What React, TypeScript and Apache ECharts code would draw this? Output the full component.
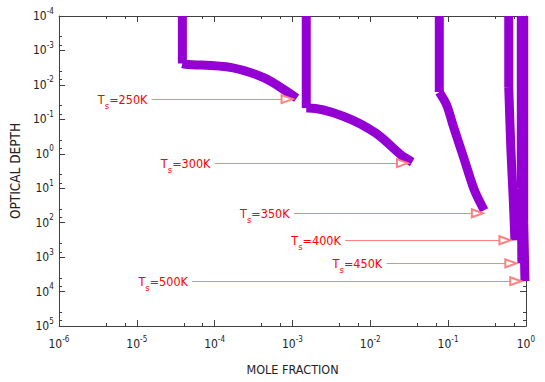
import { useEffect, useRef } from 'react';
import * as echarts from 'echarts';

// Surface temperatures (labels)
const temps = ['250K', '300K', '350K', '400K', '450K', '500K'];

// Curves: [mole fraction, optical depth]; first point = top of vertical part, second = corner
const curve250 = [[3.84e-5, 1e-4], [3.84e-5, 2.4e-3], [4.2e-5, 2.5e-3], [1.65e-4, 3.14e-3], [4.33e-4, 6.3e-3], [9.5e-4, 0.0185], [1.13e-3, 0.0242]];
const curve300 = [[1.5e-3, 1e-4], [1.5e-3, 0.047], [1.61e-3, 0.047], [4.47e-3, 0.081], [0.0117, 0.25], [0.0258, 1.17], [0.0345, 1.75]];
const curve350 = [[0.0769, 1e-4], [0.0769, 0.0162], [0.0957, 0.0386], [0.1175, 0.169], [0.162, 1.53], [0.217, 11.4], [0.29, 43.6]];
const curve400 = [[0.6, 1e-4], [0.6, 0.0115], [0.64, 0.785], [0.687, 22.4], [0.72, 326]];
const curve450 = [[0.87, 1e-4], [0.87, 10], [0.885, 1500]];
const curve500 = [[0.935, 1e-4], [0.935, 100], [0.97, 5000]];
const curves = [curve250, curve300, curve350, curve400, curve450, curve500];

// Arrow annotations: start (text side) and tip
const arrowStart = [[1.55e-5, 0.0259], [1.0e-4, 1.87], [1.04e-3, 53.3], [4.74e-3, 325], [0.0161, 1514], [5.14e-5, 5000]];
const arrowTip = [[8.5e-4, 0.0259], [0.0258, 1.87], [0.237, 53.3], [0.536, 325], [0.638, 1514], [0.738, 5000]];

const xMin = 1e-6, xMax = 1;
const yMin = 1e-4, yMax = 1e5;

const FONT = '"DejaVu Sans Condensed", "DejaVu Sans", sans-serif';
const AXIS_COLOR = '#404040';
const TEXT_COLOR = '#222';
const CURVE_COLOR = '#9400d3';

const powRich = {
  b: { fontSize: 12, lineHeight: 12, verticalAlign: 'middle', color: TEXT_COLOR, fontFamily: FONT },
  s: { fontSize: 8, lineHeight: 8, verticalAlign: 'top', color: TEXT_COLOR, fontFamily: FONT },
  h: { fontSize: 1, lineHeight: 18 },
};
const powFmt = (v: number) => {
  const e = Math.round(Math.log10(v));
  return `{b|10}{s|${e}}{h| }`;
};

export default function App() {
  const ref = useRef<HTMLDivElement>(null);
  useEffect(() => {
    if (!ref.current) return;
    const chart = echarts.init(ref.current, undefined, { renderer: 'svg' });
    const axisCommon = (show: boolean) => ({
      axisLine: { show: true, onZero: false, lineStyle: { color: AXIS_COLOR, width: 1 } },
      axisTick: { show: true, inside: true, length: 6, lineStyle: { color: AXIS_COLOR } },
      minorTick: { show: true, splitNumber: 3, length: 3, lineStyle: { color: AXIS_COLOR } },
      splitLine: { show: false },
      minorSplitLine: { show: false },
      axisLabel: show
        ? { formatter: powFmt, rich: powRich, fontFamily: FONT }
        : { show: false },
    });
    const arrowData = temps.map((t, i) => [
      { name: t, coord: arrowStart[i] },
      { coord: arrowTip[i] },
    ]);
    const lineStyle = { color: CURVE_COLOR, width: 9, cap: 'butt', join: 'miter' };
    const curveSeries: any[] = [];
    curves.forEach((c, i) => {
      curveSeries.push({
        name: temps[i] + ' v',
        type: 'line',
        data: c.slice(0, 2),
        showSymbol: false,
        symbol: 'none',
        lineStyle,
        itemStyle: { color: CURVE_COLOR },
        silent: true,
      });
      curveSeries.push({
        name: temps[i],
        type: 'line',
        data: c.slice(1),
        showSymbol: false,
        symbol: 'none',
        smooth: 0.3,
        lineStyle,
        itemStyle: { color: CURVE_COLOR },
        silent: true,
      });
    });
    chart.setOption({
      animation: false,
      backgroundColor: '#ffffff',
      textStyle: { fontFamily: FONT },
      grid: { left: 52, right: 19, top: 16, bottom: 56, containLabel: false },
      xAxis: [
        {
          type: 'log', logBase: 10, min: xMin, max: xMax, splitNumber: 6, position: 'bottom',
          name: 'MOLE FRACTION', nameLocation: 'middle', nameGap: 37,
          nameTextStyle: { fontSize: 12.5, color: TEXT_COLOR, fontFamily: FONT },
          ...axisCommon(true),
          axisLabel: { formatter: powFmt, rich: powRich, margin: 9 },
        },
        {
          type: 'log', logBase: 10, min: xMin, max: xMax, splitNumber: 6, position: 'top',
          ...axisCommon(false),
        },
      ],
      yAxis: [
        {
          type: 'log', logBase: 10, min: yMin, max: yMax, splitNumber: 9, inverse: true, position: 'left',
          name: 'OPTICAL DEPTH', nameLocation: 'middle', nameGap: 35, nameRotate: 90,
          nameTextStyle: { fontSize: 13.5, color: TEXT_COLOR, fontFamily: FONT },
          ...axisCommon(true),
          axisLabel: { formatter: powFmt, rich: powRich, margin: 5 },
        },
        {
          type: 'log', logBase: 10, min: yMin, max: yMax, splitNumber: 9, inverse: true, position: 'right',
          ...axisCommon(false),
        },
      ],
      series: [
        {
          type: 'line',
          data: [],
          markLine: {
            silent: true,
            animation: false,
            symbol: ['none', 'emptyTriangle'],
            symbolSize: [8, 11],
            lineStyle: { color: '#ff8080', width: 1, type: 'solid' },
            label: {
              show: true,
              position: 'start',
              distance: 4,
              formatter: (p: any) => `{a|T}{s|s}{a|=${p.name}}{h| }`,
              rich: {
                a: { fontSize: 12.5, lineHeight: 13, verticalAlign: 'middle', color: '#ff0000', fontFamily: FONT },
                s: { fontSize: 9.5, lineHeight: 10, verticalAlign: 'bottom', color: '#ff0000', fontFamily: FONT },
                h: { fontSize: 1, lineHeight: 22 },
              },
            },
            data: arrowData,
          },
        },
        ...curveSeries,
      ],
    });
    return () => chart.dispose();
  }, []);
  return <div ref={ref} style={{ position: 'fixed', left: 0, top: 0, width: 545, height: 382 }} />;
}
